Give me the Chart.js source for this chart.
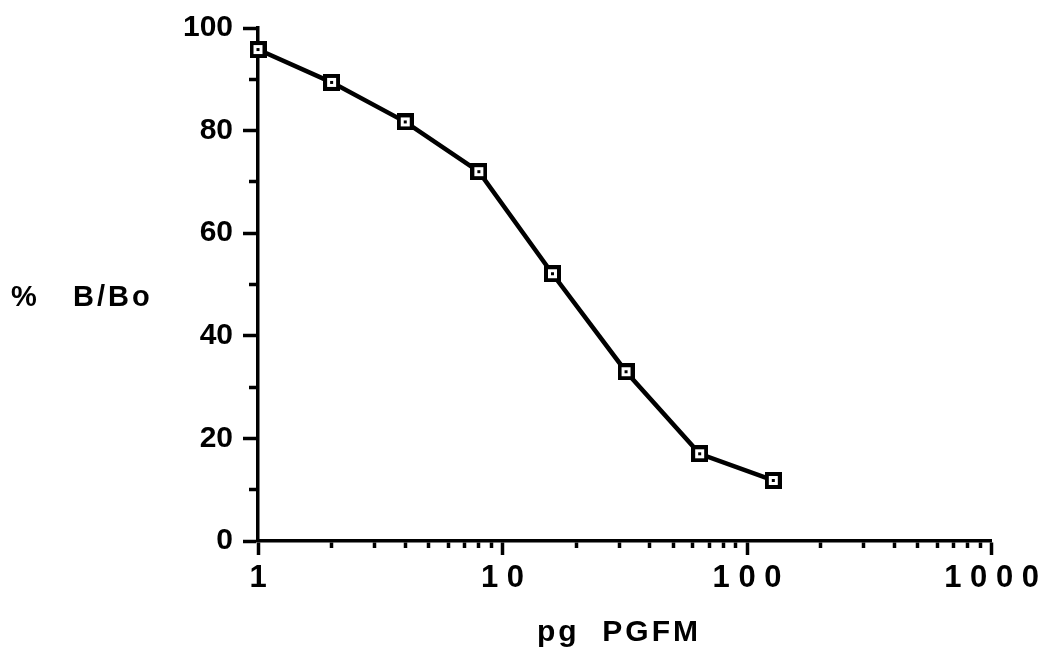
<!DOCTYPE html>
<html>
<head>
<meta charset="utf-8">
<script src="https://cdn.jsdelivr.net/npm/chart.js@4/dist/chart.umd.min.js"></script>
<style>
  html, body { margin: 0; padding: 0; background: #fff; }
  #wrap { width: 1044px; height: 651px; }
</style>
</head>
<body>
<div id="wrap"><canvas id="c" width="1044" height="651"></canvas></div>
<script>
// ---- data ----
const doses = [1, 2, 4, 8, 16, 32, 64, 128];
const bBo = [95.8, 89.4, 81.7, 72.0, 52.1, 33.0, 17.0, 11.8];

// ---- axis ticks ----
const xTickValues = [1, 2, 3, 4, 5, 6, 7, 8, 9,
                     10, 20, 30, 40, 50, 60, 70, 80, 90,
                     100, 200, 300, 400, 500, 600, 700, 800, 900, 1000];
const xMajorTicks = [1, 10, 100, 1000];
const yTickValues = [0, 10, 20, 30, 40, 50, 60, 70, 80, 90, 100];
const yLabelValues = [0, 20, 40, 60, 80, 100];

const xTitle = 'pg  PGFM';
const yTitle = '%   B/Bo';

const FONT = '"Liberation Sans", Arial, Helvetica, sans-serif';

function makeMarker() {
  const c = document.createElement('canvas');
  c.width = 17; c.height = 17;
  const g = c.getContext('2d');
  g.fillStyle = '#000'; g.fillRect(0, 0, 17, 17);
  g.fillStyle = '#fff'; g.fillRect(4, 4, 9, 9);
  g.fillStyle = '#000'; g.fillRect(7, 7, 3, 3);
  return c;
}
const marker = makeMarker();

const titles = {
  id: 'axisTitles',
  afterDraw(chart) {
    const { ctx } = chart;
    ctx.save();
    ctx.fillStyle = '#000';
    ctx.font = 'bold 29px ' + FONT;
    ctx.letterSpacing = '3px';
    ctx.textBaseline = 'alphabetic';
    ctx.textAlign = 'left';
    ctx.fillText(yTitle, 11, 306);
    ctx.font = 'bold 30px ' + FONT;
    ctx.fillText(xTitle, 537, 641);
    ctx.restore();
  }
};

new Chart(document.getElementById('c'), {
  type: 'scatter',
  data: {
    datasets: [{
      data: doses.map((d, i) => ({ x: d, y: bBo[i] })),
      showLine: true,
      borderColor: '#000',
      borderWidth: 4.5,
      pointStyle: marker,
      pointRadius: 8,
      pointHoverRadius: 8,
      clip: false
    }]
  },
  plugins: [titles],
  options: {
    responsive: false,
    animation: false,
    devicePixelRatio: 1,
    layout: { padding: { top: 25, right: 51, bottom: 0, left: 0 } },
    plugins: { legend: { display: false }, tooltip: { enabled: false } },
    scales: {
      x: {
        type: 'logarithmic',
        position: 'bottom',
        min: 1,
        max: 1000,
        afterBuildTicks: s => { s.ticks = xTickValues.map(v => ({ value: v, major: xMajorTicks.includes(v) })); },
        afterFit: s => { s.height = 110; },
        border: { display: true, color: '#000', width: 3.5 },
        grid: {
          drawOnChartArea: false,
          drawTicks: true,
          tickLength: 14,
          tickWidth: 3.5,
          tickColor: '#000',
          tickBorderDash: ctx => (ctx.tick && xMajorTicks.includes(ctx.tick.value)) ? [] : [5.5, 100]
        },
        ticks: {
          autoSkip: false,
          maxRotation: 0,
          minRotation: 0,
          padding: 5,
          color: '#000',
          font: { family: FONT, size: 31, weight: 'bold' },
          callback: v => xMajorTicks.includes(v) ? String(v).split('').join(' ') : ''
        }
      },
      y: {
        type: 'linear',
        position: 'left',
        min: 0,
        max: 100,
        afterBuildTicks: s => { s.ticks = yTickValues.map(v => ({ value: v })); },
        afterFit: s => { s.width = 258; },
        border: { display: true, color: '#000', width: 3.5 },
        grid: {
          drawOnChartArea: false,
          drawTicks: true,
          tickLength: 15,
          tickWidth: 3.5,
          tickColor: '#000',
          tickBorderDash: ctx => (ctx.tick && yLabelValues.includes(ctx.tick.value)) ? [] : [0, 6, 7.5, 100]
        },
        ticks: {
          autoSkip: false,
          padding: 10,
          color: '#000',
          font: { family: FONT, size: 30, weight: 'bold' },
          callback: v => yLabelValues.includes(v) ? String(v) : ''
        }
      }
    }
  }
});
</script>
</body>
</html>
